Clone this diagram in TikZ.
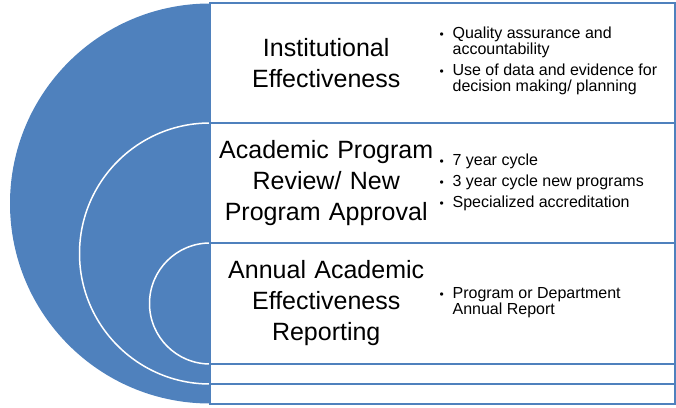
\documentclass[tikz,border=0pt]{standalone}
\usepackage{fontspec}
\setmainfont{Liberation Sans}
\usetikzlibrary{positioning,backgrounds}
\definecolor{tierblue}{RGB}{79,129,189}
\newcommand{\tierbullet}{\makebox[15pt][l]{\hspace{2pt}\fontsize{12}{12}\selectfont\textbullet}}

\begin{document}
\begin{tikzpicture}[
	  x=1pt, y=1pt,
	  tier/.style={draw=tierblue, line width=2pt, fill=white, inner sep=0pt, outer sep=0pt, minimum width=465pt},
	  title/.style={inner sep=0pt, text width=220pt, align=center, font=\fontsize{25}{31}\selectfont},
	  points/.style={inner sep=0pt, font=\fontsize{16}{15.5}\selectfont},
	  ring/.style={draw=white, line width=1.5pt},
	]
	\useasboundingbox (0,0) rectangle (676,407);
	
	% Tiers (boxes on the right)
	\node[tier, minimum height=119.5pt] (inst) at (442.5,343.75) {};
	\node[tier, minimum height=120pt, below=0pt of inst] (apr) {};
	\node[tier, minimum height=121pt, below=0pt of apr] (annual) {};
	\node[tier, minimum height=20pt, below=0pt of annual] (band2) {};
	\node[tier, minimum height=19.5pt, below=0pt of band2] (band1) {};
	
	% Half disc and rings
	\begin{pgfonlayer}{background}
		\fill[tierblue] (inst.north west) arc[start angle=90, end angle=270, radius=200] -- cycle;
		\draw[ring] (apr.north west) arc[start angle=90, end angle=270, radius=130.5];
		\draw[ring] (annual.north west) arc[start angle=90, end angle=270, radius=60.5];
	\end{pgfonlayer}
	
	% Institutional Effectiveness
	\node[title, right=6pt of inst.west] (t1) {Institutional\\Effectiveness};
	\node[points, right=1pt of t1, yshift=1.5pt] (p1) {
		\begin{tabular}{@{}l@{}}
			\tierbullet Quality assurance and \\
			\hspace{15pt}accountability \\[4.5pt]
			\tierbullet Use of data and evidence for \\
			\hspace{15pt}decision making/ planning \\
		\end{tabular}
	};
	
	% Academic Program Review
	\node[title, right=6pt of apr.west] (t2) {Academic Program\\Review/ New\\Program Approval};
	\node[points, right=1pt of t2] (p2) {
		\begin{tabular}{@{}l@{}}
			\tierbullet 7 year cycle \\[4.5pt]
			\tierbullet 3 year cycle new programs \\[4.5pt]
			\tierbullet Specialized accreditation \\
		\end{tabular}
	};
	
	% Annual Reporting
	\node[title, right=6pt of annual.west] (t3) {Annual Academic\\Effectiveness\\Reporting};
	\node[points, right=1pt of t3] (p3) {
		\begin{tabular}{@{}l@{}}
			\tierbullet Program or Department \\
			\hspace{15pt}Annual Report \\
		\end{tabular}
	};
	
	\end{tikzpicture}
\end{document}
